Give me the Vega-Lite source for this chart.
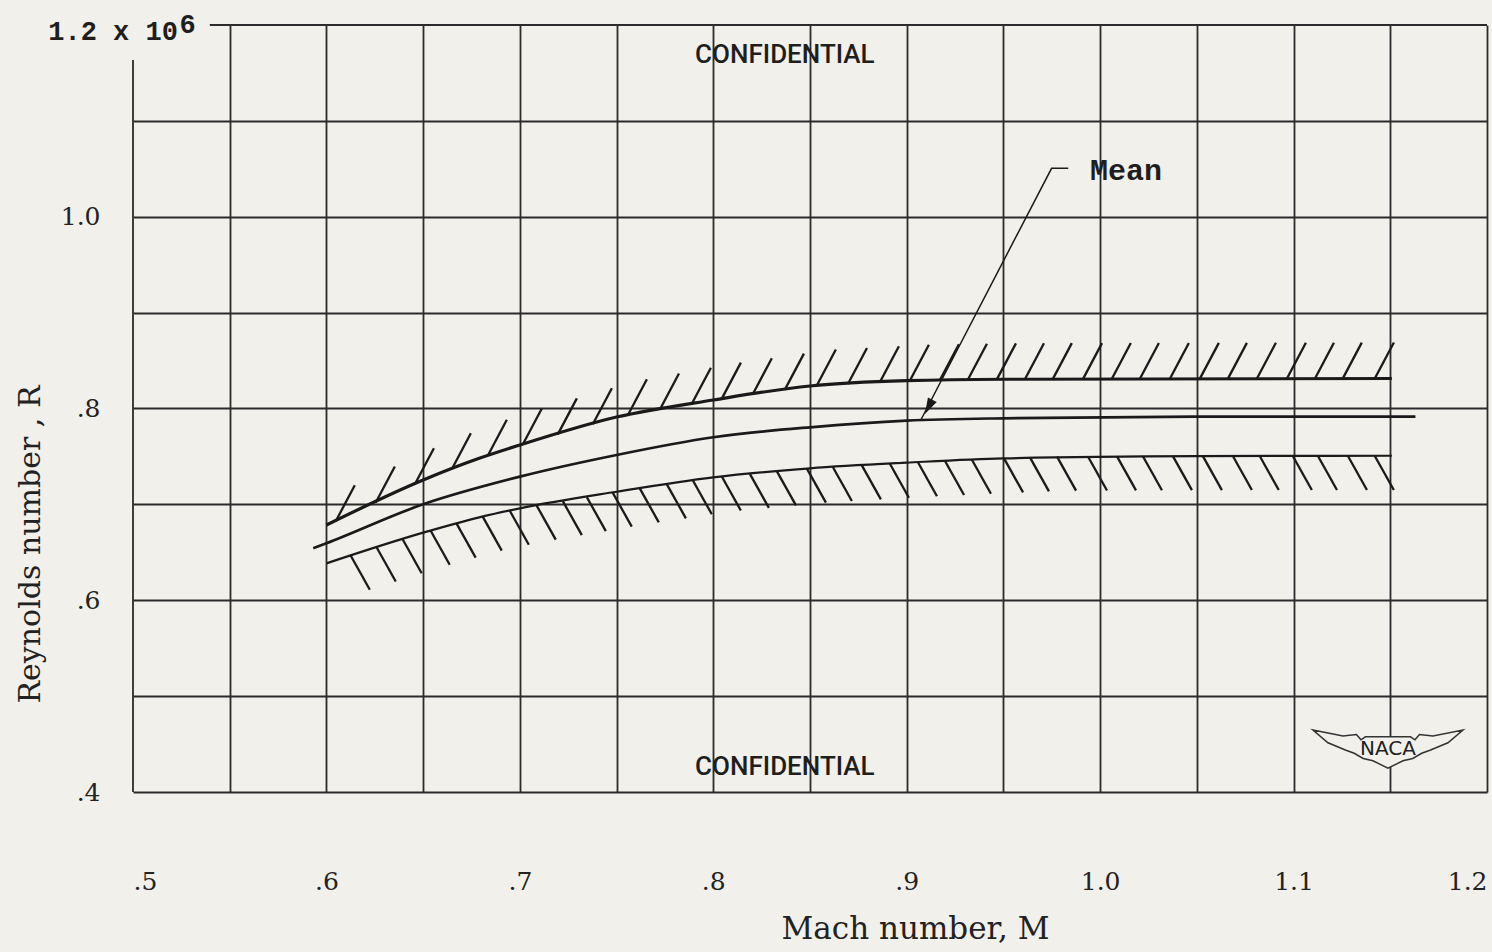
{
  "$schema": "https://vega.github.io/schema/vega-lite/v6.json",
  "width": 1354,
  "height": 767,
  "autosize": {"type": "none"},
  "padding": {"left": 133, "top": 25, "right": 5, "bottom": 160},
  "background": "#f1f0ea",
  "config": {"view": {"stroke": null}, "font": "DejaVu Serif"},
  "datasets": {
    "frame": [
      {"M": 0.5397, "M2": 1.2, "R": 1.2, "R2": 1.2},
      {"M": 0.5, "M2": 0.5, "R": 0.4, "R2": 1.1635}
    ],
    "curves": [
      {"series": "Upper", "M": 0.6, "R": 0.6785},
      {"series": "Upper", "M": 0.65, "R": 0.7254},
      {"series": "Upper", "M": 0.679, "R": 0.748},
      {"series": "Upper", "M": 0.7, "R": 0.7619},
      {"series": "Upper", "M": 0.75, "R": 0.7911},
      {"series": "Upper", "M": 0.8, "R": 0.8089},
      {"series": "Upper", "M": 0.85, "R": 0.8235},
      {"series": "Upper", "M": 0.9, "R": 0.829},
      {"series": "Upper", "M": 0.95, "R": 0.8305},
      {"series": "Upper", "M": 1.1508, "R": 0.8313},
      {"series": "Mean", "M": 0.5932, "R": 0.6542},
      {"series": "Mean", "M": 0.6, "R": 0.6594},
      {"series": "Mean", "M": 0.65, "R": 0.7001},
      {"series": "Mean", "M": 0.7, "R": 0.7289},
      {"series": "Mean", "M": 0.75, "R": 0.7515},
      {"series": "Mean", "M": 0.8, "R": 0.77},
      {"series": "Mean", "M": 0.85, "R": 0.7804},
      {"series": "Mean", "M": 0.9, "R": 0.7873},
      {"series": "Mean", "M": 0.95, "R": 0.7898},
      {"series": "Mean", "M": 1.05, "R": 0.7915},
      {"series": "Mean", "M": 1.163, "R": 0.7915},
      {"series": "Lower", "M": 0.6, "R": 0.6385},
      {"series": "Lower", "M": 0.65, "R": 0.6705},
      {"series": "Lower", "M": 0.679, "R": 0.6865},
      {"series": "Lower", "M": 0.7, "R": 0.6959},
      {"series": "Lower", "M": 0.75, "R": 0.7132},
      {"series": "Lower", "M": 0.8, "R": 0.7282},
      {"series": "Lower", "M": 0.85, "R": 0.7376},
      {"series": "Lower", "M": 0.9, "R": 0.7435},
      {"series": "Lower", "M": 0.95, "R": 0.748},
      {"series": "Lower", "M": 1.05, "R": 0.7503},
      {"series": "Lower", "M": 1.1508, "R": 0.7507}
    ],
    "hatchUpper": [
      {"M": 0.6048, "R": 0.6824}, {"M": 0.6255, "R": 0.702}, {"M": 0.6457, "R": 0.721},
      {"M": 0.6648, "R": 0.7367}, {"M": 0.6834, "R": 0.7507}, {"M": 0.7015, "R": 0.7625},
      {"M": 0.7196, "R": 0.773}, {"M": 0.7377, "R": 0.7836}, {"M": 0.7558, "R": 0.793},
      {"M": 0.7724, "R": 0.799}, {"M": 0.7889, "R": 0.805}, {"M": 0.8044, "R": 0.8103},
      {"M": 0.8204, "R": 0.8149}, {"M": 0.837, "R": 0.8197}, {"M": 0.8535, "R": 0.8239},
      {"M": 0.8696, "R": 0.8256}, {"M": 0.8861, "R": 0.8274}, {"M": 0.9016, "R": 0.829},
      {"M": 0.9171, "R": 0.8295}, {"M": 0.9316, "R": 0.8299}, {"M": 0.9466, "R": 0.8304},
      {"M": 0.9611, "R": 0.8305}, {"M": 0.9755, "R": 0.8306}, {"M": 0.9911, "R": 0.8306},
      {"M": 1.006, "R": 0.8307}, {"M": 1.0205, "R": 0.8307}, {"M": 1.036, "R": 0.8308},
      {"M": 1.0515, "R": 0.8309}, {"M": 1.066, "R": 0.8309}, {"M": 1.081, "R": 0.831},
      {"M": 1.0965, "R": 0.8311}, {"M": 1.111, "R": 0.8311}, {"M": 1.1254, "R": 0.8312},
      {"M": 1.142, "R": 0.8313}
    ],
    "hatchLower": [
      {"M": 0.6126, "R": 0.6464}, {"M": 0.626, "R": 0.655}, {"M": 0.6394, "R": 0.6636},
      {"M": 0.6539, "R": 0.6725}, {"M": 0.6673, "R": 0.6799}, {"M": 0.6808, "R": 0.6872},
      {"M": 0.6948, "R": 0.6934}, {"M": 0.7087, "R": 0.6987}, {"M": 0.7222, "R": 0.7034},
      {"M": 0.7346, "R": 0.7076}, {"M": 0.748, "R": 0.7123}, {"M": 0.762, "R": 0.7167},
      {"M": 0.776, "R": 0.7209}, {"M": 0.7894, "R": 0.7251}, {"M": 0.8044, "R": 0.7291},
      {"M": 0.8189, "R": 0.7318}, {"M": 0.8329, "R": 0.7344}, {"M": 0.8484, "R": 0.7373},
      {"M": 0.8618, "R": 0.739}, {"M": 0.8768, "R": 0.7407}, {"M": 0.8913, "R": 0.7424},
      {"M": 0.9058, "R": 0.744}, {"M": 0.9198, "R": 0.7452}, {"M": 0.9337, "R": 0.7465},
      {"M": 0.9503, "R": 0.748}, {"M": 0.9637, "R": 0.749}, {"M": 0.9777, "R": 0.7498},
      {"M": 0.9937, "R": 0.75}, {"M": 1.0087, "R": 0.7501}, {"M": 1.0221, "R": 0.7502},
      {"M": 1.0376, "R": 0.7503}, {"M": 1.0531, "R": 0.7503}, {"M": 1.0686, "R": 0.7504},
      {"M": 1.0825, "R": 0.7504}, {"M": 1.0996, "R": 0.7505}, {"M": 1.1126, "R": 0.7505},
      {"M": 1.1281, "R": 0.7505}, {"M": 1.142, "R": 0.7505}
    ],
    "leader": [
      {"M": 0.9835, "R": 1.0505},
      {"M": 0.9749, "R": 1.0505},
      {"M": 0.9073, "R": 0.788}
    ],
    "arrow": [{"M": 0.9094, "R": 0.7943}],
    "logo": [{"M": 1.1488, "R": 0.449, "t": "NACA", "Rt": 0.4386}],
    "stamps": [
      {"M": 0.837, "R": 1.1604, "t": "CONFIDENTIAL"},
      {"M": 0.837, "R": 0.4177, "t": "CONFIDENTIAL"}
    ],
    "meanLabel": [
      {"M": 0.9947, "R": 1.0383, "t": "Mean"}
    ],
    "expLabel": [
      {"M": 0.5241, "R": 1.1917, "t": "6"}
    ],
    "topLabel": [
      {"M": 0.5232, "R": 1.1844, "t": "1.2 x 10"}
    ]
  },
  "encoding": {
    "x": {
      "field": "M",
      "type": "quantitative",
      "scale": {"domain": [0.5, 1.2], "nice": false, "zero": false},
      "axis": {
        "values": [0.5, 0.55, 0.6, 0.65, 0.7, 0.75, 0.8, 0.85, 0.9, 0.95, 1.0, 1.05, 1.1, 1.15, 1.2],
        "grid": true,
        "gridColor": "#2b2b2b",
        "gridWidth": 1.8,
        "gridOpacity": {"condition": {"test": "datum.value < 0.51", "value": 0}, "value": 1},
        "domain": false,
        "ticks": false,
        "tickSize": 0,
        "labelExpr": "round(datum.value*100) % 10 == 0 ? (datum.value < 0.99 ? slice(format(datum.value, '.1f'), 1) : format(datum.value, '.1f')) : ''",
        "labelAlign": {"condition": [{"test": "datum.value > 1.19", "value": "right"}, {"test": "datum.value < 0.51", "value": "left"}], "value": "center"},
        "labelFont": "DejaVu Serif",
        "labelFontSize": 25,
        "labelColor": "#222222",
        "labelPadding": 89,
        "labelBaseline": "middle",
        "labelOverlap": false,
        "labelFlush": false,
        "title": "Mach number, M",
        "titleFont": "DejaVu Serif",
        "titleFontSize": 31,
        "titleFontWeight": "normal",
        "titleColor": "#222222",
        "titleX": 782,
        "titleY": 146,
        "titleBaseline": "alphabetic",
        "titleAlign": "center"
      }
    },
    "y": {
      "field": "R",
      "type": "quantitative",
      "scale": {"domain": [0.4, 1.2], "nice": false, "zero": false},
      "axis": {
        "values": [0.4, 0.5, 0.6, 0.7, 0.8, 0.9, 1.0, 1.1, 1.2],
        "grid": true,
        "gridColor": "#2b2b2b",
        "gridWidth": 1.8,
        "gridOpacity": {"condition": {"test": "datum.value > 1.19", "value": 0}, "value": 1},
        "domain": false,
        "ticks": false,
        "tickSize": 0,
        "labelExpr": "(round(datum.value*10) % 2 == 0 && datum.value < 1.15) ? (datum.value < 0.99 ? slice(format(datum.value, '.1f'), 1) : format(datum.value, '.1f')) : ''",
        "labelFont": "DejaVu Serif",
        "labelFontSize": 25,
        "labelColor": "#222222",
        "labelPadding": 33,
        "labelAlign": "right",
        "labelBaseline": "middle",
        "labelOverlap": false,
        "labelFlush": false,
        "title": "Reynolds number , R",
        "titleFont": "DejaVu Serif",
        "titleFontSize": 30,
        "titleFontWeight": "normal",
        "titleColor": "#222222",
        "titleX": -103,
        "titleY": 519,
        "titleAngle": -90,
        "titleAlign": "center",
        "titleBaseline": "middle"
      }
    }
  },
  "layer": [
    {
      "data": {"name": "frame"},
      "mark": {"type": "rule", "color": "#2b2b2b", "strokeWidth": 1.8},
      "encoding": {"x2": {"field": "M2"}, "y2": {"field": "R2"}}
    },
    {
      "data": {"name": "curves"},
      "mark": {"type": "line", "interpolate": "monotone", "color": "#1a1a1a"},
      "encoding": {
        "detail": {"field": "series", "type": "nominal"},
        "strokeWidth": {
          "field": "series",
          "type": "nominal",
          "scale": {"domain": ["Upper", "Mean", "Lower"], "range": [3.2, 2.2, 3.2]},
          "legend": null
        }
      }
    },
    {
      "data": {"name": "hatchUpper"},
      "mark": {"type": "point", "shape": "M0,0L0.53,-1", "size": 5184, "filled": false, "opacity": 1, "color": "#1a1a1a", "strokeWidth": 2.3}
    },
    {
      "data": {"name": "hatchLower"},
      "mark": {"type": "point", "shape": "M0,0L0.56,1", "size": 4624, "filled": false, "opacity": 1, "color": "#1a1a1a", "strokeWidth": 2.3}
    },
    {
      "data": {"name": "leader"},
      "mark": {"type": "line", "color": "#1a1a1a", "strokeWidth": 1.5}
    },
    {
      "data": {"name": "arrow"},
      "mark": {"type": "point", "shape": "M0,0L0.74,-0.74L0.19,-1.03Z", "size": 1024, "filled": true, "opacity": 1, "color": "#1a1a1a"}
    },
    {
      "data": {"name": "logo"},
      "mark": {
        "type": "point",
        "shape": "M-1,-0.2L-0.6,-0.12L-0.42,-0.14L-0.36,-0.07L-0.3,-0.11L0.3,-0.11L0.36,-0.07L0.42,-0.14L0.6,-0.12L1,-0.2L0.8,-0.03L0.56,0.07L0.45,0.11L0.33,0.18L0.2,0.21L0,0.31L-0.2,0.21L-0.33,0.18L-0.45,0.11L-0.56,0.07L-0.8,-0.03Z",
        "size": 22500,
        "filled": true,
        "opacity": 1,
        "fill": "#f1f0ea",
        "stroke": "#333333",
        "strokeWidth": 1.5
      }
    },
    {
      "data": {"name": "logo"},
      "mark": {"type": "text", "font": "DejaVu Sans", "fontSize": 20, "color": "#222222", "align": "center", "baseline": "alphabetic"},
      "encoding": {"y": {"field": "Rt", "type": "quantitative"}, "text": {"field": "t"}}
    },
    {
      "data": {"name": "stamps"},
      "mark": {"type": "text", "font": "Roboto", "fontSize": 26, "fontWeight": 500, "color": "#1e1e1e", "align": "center", "baseline": "alphabetic"},
      "encoding": {"text": {"field": "t"}}
    },
    {
      "data": {"name": "meanLabel"},
      "mark": {"type": "text", "font": "Liberation Mono", "fontSize": 30, "fontWeight": "bold", "color": "#1e1e1e", "align": "left", "baseline": "alphabetic"},
      "encoding": {"text": {"field": "t"}}
    },
    {
      "data": {"name": "expLabel"},
      "mark": {"type": "text", "font": "Liberation Mono", "fontSize": 27, "fontWeight": "bold", "color": "#1e1e1e", "align": "left", "baseline": "alphabetic"},
      "encoding": {"text": {"field": "t"}}
    },
    {
      "data": {"name": "topLabel"},
      "mark": {"type": "text", "font": "Liberation Mono", "fontSize": 27, "fontWeight": "bold", "color": "#1e1e1e", "align": "right", "baseline": "alphabetic"},
      "encoding": {"text": {"field": "t"}}
    }
  ]
}
